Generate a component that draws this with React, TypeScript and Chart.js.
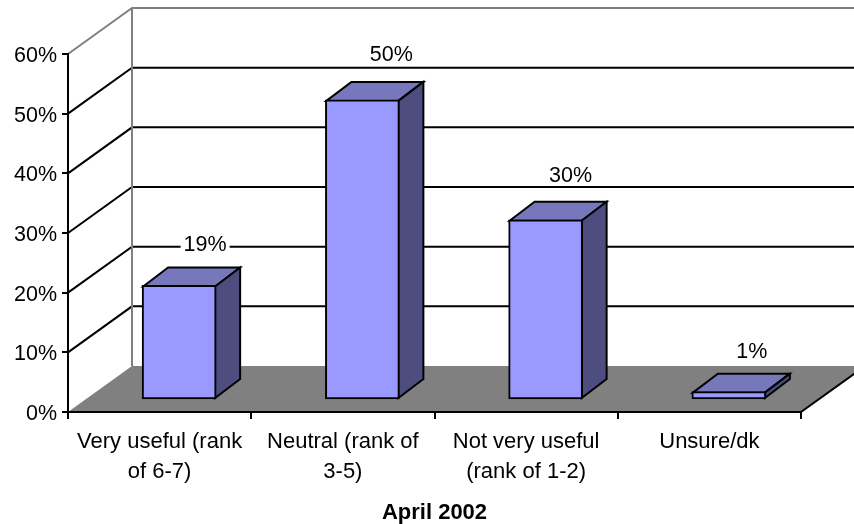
import React, { useEffect, useRef } from "react";
import { Chart, registerables } from "chart.js";

Chart.register(...registerables);

const categories = [
  ["Very useful (rank", "of 6-7)"],
  ["Neutral (rank of", "3-5)"],
  ["Not very useful", "(rank of 1-2)"],
  ["Unsure/dk"],
];
const values = [19.2, 50.3, 30.2, 1.4];
const xTitle = "April 2002";

const FONT = "'Liberation Sans', Arial, sans-serif";
const FONT_SIZE = 21.5;
const X_FONT_SIZE = 22;
const WALL = { dx: 64, dy: -46 };
const BAR = { dx: 25, dy: -19 };
const BAR_SHIFT = { x: 19.5, y: -12 };
const LABEL_SHIFT = { x: 28, y: -45 };
const LABEL_NUDGE = [
  [-2, 5],
  [1, 0],
  [-3, 1],
  [-5, 5],
];

const wallsPlugin = {
  id: "walls",
  beforeDraw(chart: any) {
    const { ctx, chartArea: a, scales, width } = chart;
    const y = scales.y;
    const y0 = y.getPixelForValue(0);
    const yTop = y.getPixelForValue(60);
    const bx = a.left + WALL.dx;
    ctx.save();
    // floor
    ctx.fillStyle = "#808080";
    ctx.beginPath();
    ctx.moveTo(a.left, y0);
    ctx.lineTo(bx, y0 + WALL.dy);
    ctx.lineTo(a.right + WALL.dx, y0 + WALL.dy);
    ctx.lineTo(a.right, y0);
    ctx.closePath();
    ctx.fill();
    // right floor edge
    ctx.strokeStyle = "#000";
    ctx.lineWidth = 2;
    ctx.beginPath();
    ctx.moveTo(a.right, y0);
    ctx.lineTo(a.right + WALL.dx, y0 + WALL.dy);
    ctx.stroke();
    // grid lines on the walls
    for (const t of y.ticks) {
      if (t.value === 0) continue;
      const py = y.getPixelForValue(t.value);
      ctx.strokeStyle = t.value === 60 ? "#808080" : "#000";
      ctx.lineWidth = 2;
      ctx.beginPath();
      ctx.moveTo(a.left, py);
      ctx.lineTo(bx, py + WALL.dy);
      ctx.lineTo(width, py + WALL.dy);
      ctx.stroke();
    }
    // back wall corner
    ctx.strokeStyle = "#808080";
    ctx.lineWidth = 2;
    ctx.beginPath();
    ctx.moveTo(bx, yTop + WALL.dy);
    ctx.lineTo(bx, y0 + WALL.dy);
    ctx.stroke();
    ctx.restore();
  },
};

const bar3dPlugin = {
  id: "bar3d",
  beforeDatasetDraw(chart: any, args: any) {
    const { ctx } = chart;
    const meta = chart.getDatasetMeta(args.index);
    ctx.save();
    ctx.translate(BAR_SHIFT.x, BAR_SHIFT.y);
    ctx.lineWidth = 2;
    ctx.strokeStyle = "#000";
    ctx.lineJoin = "miter";
    for (const el of meta.data) {
      const { x, y, base, width } = el.getProps(["x", "y", "base", "width"], true);
      const l = x - width / 2 + 1;
      const r = x + width / 2 - 1;
      const t = y + 1;
      const b = base - 1;
      ctx.fillStyle = "#7777BB";
      ctx.beginPath();
      ctx.moveTo(l, t);
      ctx.lineTo(l + BAR.dx, t + BAR.dy);
      ctx.lineTo(r + BAR.dx, t + BAR.dy);
      ctx.lineTo(r, t);
      ctx.closePath();
      ctx.fill();
      ctx.stroke();
      ctx.fillStyle = "#4D4D80";
      ctx.beginPath();
      ctx.moveTo(r, t);
      ctx.lineTo(r + BAR.dx, t + BAR.dy);
      ctx.lineTo(r + BAR.dx, b + BAR.dy);
      ctx.lineTo(r, b);
      ctx.closePath();
      ctx.fill();
      ctx.stroke();
    }
  },
  afterDatasetDraw(chart: any) {
    chart.ctx.restore();
  },
  afterDatasetsDraw(chart: any) {
    const { ctx } = chart;
    const meta = chart.getDatasetMeta(0);
    ctx.save();
    ctx.font = `${FONT_SIZE}px ${FONT}`;
    ctx.textAlign = "center";
    ctx.textBaseline = "middle";
    meta.data.forEach((el: any, i: number) => {
      const { x, y } = el.getProps(["x", "y"], true);
      const text = `${Math.round(values[i])}%`;
      const cx = x + BAR_SHIFT.x + LABEL_SHIFT.x + LABEL_NUDGE[i][0];
      const cy = y + BAR_SHIFT.y + LABEL_SHIFT.y + LABEL_NUDGE[i][1];
      const w = ctx.measureText(text).width + 6;
      ctx.fillStyle = "#fff";
      ctx.fillRect(cx - w / 2, cy - 10, w, 20);
      ctx.fillStyle = "#000";
      ctx.fillText(text, cx, cy);
    });
    ctx.restore();
  },
};

export default function App() {
  const ref = useRef<HTMLCanvasElement>(null);
  useEffect(() => {
    const chart = new Chart(ref.current!, {
      type: "bar",
      data: {
        labels: categories,
        datasets: [
          {
            data: values,
            backgroundColor: "#9999FF",
            borderColor: "#000",
            borderWidth: 2,
            borderSkipped: false,
            barThickness: 74,
            clip: false,
          } as any,
        ],
      },
      plugins: [wallsPlugin, bar3dPlugin],
      options: {
        responsive: false,
        animation: false,
        devicePixelRatio: 1,
        layout: { padding: { top: 54, right: 53, left: 0, bottom: 0 } },
        plugins: { legend: { display: false }, tooltip: { enabled: false } },
        scales: {
          x: {
            afterFit(s: any) {
              s.height = 112;
            },
            grid: { drawOnChartArea: false, color: "#000", lineWidth: 2, tickLength: 7, offset: true },
            border: { color: "#000", width: 2 },
            ticks: {
              maxRotation: 0,
              autoSkip: false,
              color: "#000",
              padding: 8,
              font: { family: FONT, size: X_FONT_SIZE, lineHeight: "30px" },
            },
            title: {
              display: true,
              text: xTitle,
              color: "#000",
              font: { family: FONT, size: X_FONT_SIZE, weight: "bold" },
              padding: { top: 0, bottom: -2 },
            },
          },
          y: {
            min: 0,
            max: 60,
            afterFit(s: any) {
              s.width = 68;
            },
            grid: { drawOnChartArea: false, color: "#000", lineWidth: 2, tickLength: 6 },
            border: { color: "#000", width: 2 },
            ticks: {
              stepSize: 10,
              color: "#000",
              padding: 5,
              labelOffset: 2,
              font: { family: FONT, size: FONT_SIZE },
              callback: (v: any) => `${v}%`,
            },
          },
        },
      },
    } as any);
    return () => chart.destroy();
  }, []);
  return (
    <div style={{ position: "absolute", left: 0, top: 0, width: 854, height: 524 }}>
      <canvas ref={ref} width={854} height={524} style={{ display: "block" }} />
    </div>
  );
}
